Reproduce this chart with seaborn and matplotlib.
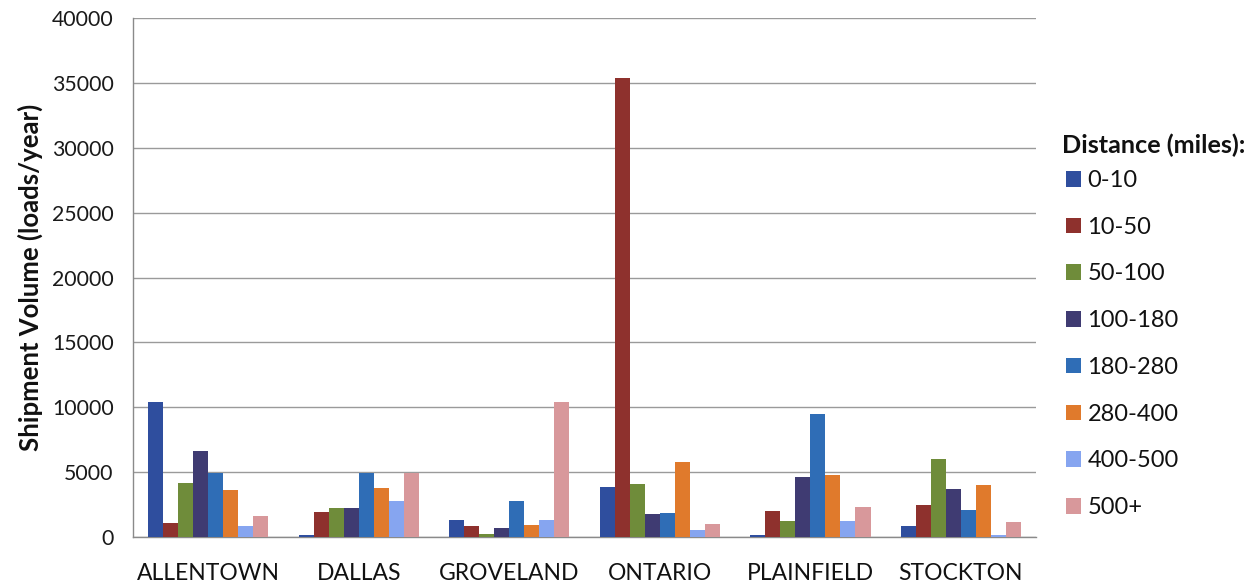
import matplotlib
matplotlib.use("Agg")
import matplotlib.pyplot as plt
import seaborn as sns
import pandas as pd
from matplotlib.ticker import FixedLocator

# Shipment volume (loads/year) by facility and distance band
facilities = ["ALLENTOWN", "DALLAS", "GROVELAND", "ONTARIO", "PLAINFIELD", "STOCKTON"]
distance_bands = ["0-10", "10-50", "50-100", "100-180", "180-280", "280-400", "400-500", "500+"]

vol_0_10 = [10400, 150, 1300, 3850, 150, 850]
vol_10_50 = [1100, 1900, 850, 35400, 2000, 2500]
vol_50_100 = [4200, 2250, 250, 4050, 1200, 6000]
vol_100_180 = [6600, 2250, 700, 1750, 4650, 3700]
vol_180_280 = [4950, 4950, 2800, 1880, 9450, 2100]
vol_280_400 = [3650, 3750, 950, 5800, 4750, 4000]
vol_400_500 = [850, 2800, 1300, 570, 1200, 150]
vol_500_plus = [1650, 4950, 10400, 1030, 2300, 1150]

y_ticks = [0, 5000, 10000, 15000, 20000, 25000, 30000, 35000, 40000]

band_colors = ["#2F4E9E", "#8E312D", "#6F8C3A", "#3F3B72",
               "#2F6DB6", "#E07A2C", "#86A5F0", "#D8989B"]

series = [vol_0_10, vol_10_50, vol_50_100, vol_100_180,
          vol_180_280, vol_280_400, vol_400_500, vol_500_plus]
rows = []
for band, vals in zip(distance_bands, series):
    for fac, v in zip(facilities, vals):
        rows.append({"Facility": fac, "Distance": band, "Volume": v})
df = pd.DataFrame(rows)

sns.set_style("white")
plt.rcParams["font.family"] = ["Lato", "DejaVu Sans"]

fig = plt.figure(figsize=(12.56, 5.88), dpi=100)
ax = fig.add_axes([0.1059, 0.0867, 0.719, 0.8823])

sns.barplot(data=df, x="Facility", y="Volume", hue="Distance",
            order=facilities, hue_order=distance_bands,
            palette=band_colors, width=0.8, gap=0, saturation=1,
            errorbar=None, ax=ax, linewidth=0, zorder=3)

ax.set_ylim(0, 40000)
ax.set_xlim(-0.5, len(facilities) - 0.5)
ax.set_yticks(y_ticks)
ax.set_yticklabels([str(t) for t in y_ticks], fontsize=15.3, color="#1a1a1a")
ax.yaxis.grid(True, color="#9a9a9a", linewidth=1.0, zorder=0)
ax.set_axisbelow(True)

# Category labels centred, tick marks at category boundaries
ax.set_xticks(range(len(facilities)))
ax.set_xticklabels(facilities, fontsize=16.5, color="#111111")
ax.tick_params(axis="x", which="major", length=0, pad=19)
ax.xaxis.set_minor_locator(FixedLocator([i - 0.5 for i in range(len(facilities) + 1)]))
ax.tick_params(axis="x", which="minor", length=6, color="#888888", width=1, direction="out")
ax.tick_params(axis="y", which="major", length=5, color="#888888", width=1, direction="out", pad=9)

ax.set_xlabel("")
ax.set_ylabel("Shipment Volume (loads/year)", fontsize=18.5, fontweight="bold",
              color="#111111", labelpad=6)

for side in ["top", "right"]:
    ax.spines[side].set_visible(False)
for side in ["left", "bottom"]:
    ax.spines[side].set_color("#8a8a8a")
    ax.spines[side].set_linewidth(1.0)

# Legend title drawn separately so its gap to the entries can be set freely
fig.text(1062 / 1256, 1 - 145 / 588, "Distance (miles):", fontsize=18.2,
         fontweight="bold", color="#111111", ha="left", va="center")

handles, labels = ax.get_legend_handles_labels()
leg = ax.legend(handles, labels, loc="upper left",
                bbox_to_anchor=(1066 / 1256, 1 - 170 / 588),
                bbox_transform=fig.transFigure,
                frameon=False, fontsize=17, borderpad=0, borderaxespad=0,
                handlelength=0.64, handleheight=0.64, handletextpad=0.27,
                labelspacing=1.09)
for t in leg.get_texts():
    t.set_color("#111111")

fig.savefig("out.png", dpi=100)
